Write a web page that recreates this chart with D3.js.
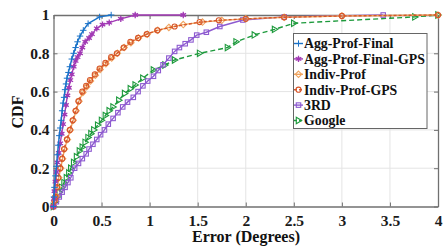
<!DOCTYPE html>
<html><head><meta charset="utf-8">
<script src="https://cdn.jsdelivr.net/npm/d3@7"></script>
<style>html,body{margin:0;padding:0;background:#fff;}svg{display:block;}</style>
</head><body>
<svg id="c" width="443" height="247"></svg>
<script>
const xTicks = [0, 0.5, 1, 1.5, 2, 2.5, 3, 3.5, 4];
const xTickLabels = ["0", "0.5", "1", "1.5", "2", "2.5", "3", "3.5", "4"];
const yTicks = [0, 0.2, 0.4, 0.6, 0.8, 1];
const yTickLabels = ["0", "0.2", "0.4", "0.6", "0.8", "1"];
const seriesNames = ["Agg-Prof-Final", "Agg-Prof-Final-GPS", "Indiv-Prof", "Indiv-Prof-GPS", "3RD", "Google"];

const aggProfFinalX = [0,0.005,0.01,0.02,0.03,0.04,0.05,0.06,0.07,0.08,0.09,0.1,0.11,0.12,0.13,0.14,0.155,0.17,0.19,0.21,0.23,0.25,0.276,0.31,0.36,0.48,0.6];
const aggProfFinalY = [0,0.05,0.1,0.16,0.21,0.27,0.32,0.37,0.41,0.45,0.5,0.54,0.57,0.61,0.64,0.67,0.7,0.73,0.77,0.8,0.83,0.86,0.89,0.92,0.955,0.99,1.0];

const aggGpsX = [0,0.005,0.01,0.02,0.03,0.04,0.055,0.07,0.085,0.1,0.115,0.13,0.145,0.16,0.175,0.19,0.21,0.23,0.25,0.276,0.3,0.33,0.37,0.4,0.45,0.51,0.58,0.7,0.85,1.35];
const aggGpsY = [0,0.04,0.08,0.13,0.18,0.23,0.28,0.33,0.38,0.43,0.48,0.53,0.58,0.62,0.66,0.69,0.73,0.76,0.78,0.8,0.83,0.86,0.88,0.9,0.93,0.95,0.96,0.98,1.0,1.0];

const indivX = [0,0.012,0.025,0.04,0.055,0.075,0.095,0.115,0.145,0.175,0.205,0.235,0.265,0.305,0.345,0.385,0.435,0.485,0.545,0.605,0.665,0.735,0.805,0.885,0.975,1.085,1.2,1.35,1.55,1.75,2.0,2.4,3.0,4.0];
const indivY = [0,0.03,0.055,0.1,0.15,0.2,0.25,0.3,0.35,0.4,0.45,0.5,0.55,0.595,0.625,0.655,0.685,0.715,0.745,0.775,0.8,0.83,0.855,0.88,0.9,0.92,0.935,0.95,0.963,0.972,0.98,0.988,0.995,1.0];

const indivGpsX = [0,0.01,0.02,0.035,0.05,0.07,0.09,0.11,0.14,0.17,0.2,0.23,0.26,0.3,0.34,0.38,0.43,0.48,0.54,0.6,0.66,0.73,0.8,0.88,0.97,1.08,1.26,1.52,1.72,2.0,2.4,3.0,4.0];
const indivGpsY = [0,0.03,0.05,0.1,0.15,0.2,0.25,0.3,0.35,0.4,0.45,0.5,0.55,0.6,0.63,0.66,0.69,0.72,0.75,0.78,0.8,0.83,0.86,0.88,0.9,0.92,0.94,0.963,0.972,0.98,0.988,0.995,1.0];

const rdX = [0,0.03,0.06,0.09,0.12,0.15,0.18,0.22,0.26,0.3,0.34,0.37,0.41,0.45,0.49,0.53,0.57,0.62,0.67,0.72,0.77,0.83,0.88,0.93,0.98,1.04,1.09,1.14,1.2,1.26,1.31,1.37,1.43,1.49,1.59,1.73,1.97,2.4,3.43];
const rdY = [0,0.025,0.05,0.075,0.1,0.125,0.15,0.2,0.225,0.25,0.275,0.3,0.325,0.35,0.375,0.4,0.43,0.46,0.49,0.52,0.545,0.57,0.6,0.63,0.655,0.68,0.71,0.74,0.775,0.81,0.83,0.85,0.87,0.895,0.91,0.94,0.974,0.99,1.0];

const googleX = [0,0.02,0.04,0.06,0.085,0.11,0.135,0.16,0.18,0.21,0.24,0.27,0.3,0.33,0.36,0.39,0.42,0.46,0.5,0.54,0.58,0.62,0.68,0.74,0.8,0.85,0.93,1.04,1.16,1.26,1.52,1.81,1.9,2.09,2.3,2.5,3.76,4.0];
const googleY = [0,0.025,0.05,0.075,0.1,0.125,0.15,0.175,0.2,0.23,0.26,0.29,0.31,0.335,0.36,0.38,0.4,0.425,0.45,0.475,0.5,0.52,0.555,0.59,0.615,0.635,0.67,0.713,0.739,0.765,0.8,0.83,0.86,0.896,0.925,0.957,0.99,1.0];

const colors = ["#1a72c8", "#a23ab5", "#f0a45e", "#d6562a", "#8d5ad0", "#1d9a3c"];
const markers = ["plus", "asterisk", "diamond", "circle", "square", "triangle"];
const dashes = [null, null, null, "3,2", null, "5,3"];

const allX = [aggProfFinalX, aggGpsX, indivX, indivGpsX, rdX, googleX];
const allY = [aggProfFinalY, aggGpsY, indivY, indivGpsY, rdY, googleY];

const x = d3.scaleLinear().domain([0, 4]).range([53.5, 438]);
const y = d3.scaleLinear().domain([0, 1]).range([206.5, 15]);

const svg = d3.select("#c");
const font = "'Liberation Serif', 'Times New Roman', serif";

// grid
svg.append("g").selectAll("line").data(xTicks.slice(1, -1)).join("line")
  .attr("x1", d => x(d)).attr("x2", d => x(d)).attr("y1", y(0)).attr("y2", y(1))
  .attr("stroke", "#e4e4e4").attr("stroke-width", 1);
svg.append("g").selectAll("line").data(yTicks.slice(1, -1)).join("line")
  .attr("y1", d => y(d)).attr("y2", d => y(d)).attr("x1", x(0)).attr("x2", x(4))
  .attr("stroke", "#e4e4e4").attr("stroke-width", 1);

// axes
const xAxis = d3.axisBottom(x).tickValues(xTicks).tickFormat((d, i) => xTickLabels[i]).tickSizeInner(-4).tickSizeOuter(0).tickPadding(8);
const yAxis = d3.axisLeft(y).tickValues(yTicks).tickFormat((d, i) => yTickLabels[i]).tickSizeInner(-4).tickSizeOuter(0).tickPadding(4);
const gx = svg.append("g").attr("transform", `translate(0,${y(0)})`).call(xAxis);
const gy = svg.append("g").attr("transform", `translate(${x(0)},0)`).call(yAxis);
const gx2 = svg.append("g").attr("transform", `translate(0,${y(1)})`).call(d3.axisTop(x).tickValues(xTicks).tickFormat("").tickSizeInner(-4).tickSizeOuter(0));
const gy2 = svg.append("g").attr("transform", `translate(${x(4)},0)`).call(d3.axisRight(y).tickValues(yTicks).tickFormat("").tickSizeInner(-4).tickSizeOuter(0));
[gx, gy, gx2, gy2].forEach(g => {
  g.select(".domain").attr("stroke", "#707070").attr("stroke-width", 1.3);
  g.selectAll(".tick line").attr("stroke", "#707070");
  g.selectAll("text").attr("font-family", font).attr("font-weight", "bold").attr("font-size", 15.5).attr("fill", "#1a1a1a");
});

function drawMarker(g, type, cx, cy, color, s) {
  if (type === "plus") {
    g.append("path").attr("d", `M${cx-s},${cy}H${cx+s}M${cx},${cy-s}V${cy+s}`).attr("stroke", color).attr("stroke-width", 1).attr("fill", "none");
  } else if (type === "asterisk") {
    const a = s * 0.87, b = s * 0.5;
    g.append("path").attr("d", `M${cx},${cy-s}V${cy+s}M${cx-a},${cy-b}L${cx+a},${cy+b}M${cx-a},${cy+b}L${cx+a},${cy-b}`).attr("stroke", color).attr("stroke-width", 1.3).attr("fill", "none");
    g.append("circle").attr("cx", cx).attr("cy", cy).attr("r", s * 0.55).attr("fill", color);
  } else if (type === "diamond") {
    g.append("path").attr("d", `M${cx},${cy-s}L${cx+s},${cy}L${cx},${cy+s}L${cx-s},${cy}Z`).attr("stroke", color).attr("stroke-width", 1.1).attr("fill", "none");
  } else if (type === "circle") {
    g.append("circle").attr("cx", cx).attr("cy", cy).attr("r", s * 0.8).attr("stroke", color).attr("stroke-width", 1.1).attr("fill", "none");
  } else if (type === "square") {
    const r = s * 0.7;
    g.append("rect").attr("x", cx - r).attr("y", cy - r).attr("width", 2 * r).attr("height", 2 * r).attr("stroke", color).attr("stroke-width", 1.1).attr("fill", "none");
  } else if (type === "triangle") {
    g.append("path").attr("d", `M${cx-s*0.7},${cy-s}L${cx+s},${cy}L${cx-s*0.7},${cy+s}Z`).attr("stroke", color).attr("stroke-width", 1.1).attr("fill", "none");
  }
}

const line = d3.line().x(d => x(d[0])).y(d => y(d[1]));
const order = [5, 4, 2, 3, 1, 0];
order.forEach(i => {
  const pts = allX[i].map((v, k) => [v, allY[i][k]]);
  const g = svg.append("g");
  g.append("path").datum(pts).attr("d", line).attr("fill", "none").attr("stroke", colors[i])
    .attr("stroke-width", 1.4).attr("stroke-dasharray", dashes[i]);
  pts.forEach(p => drawMarker(g, markers[i], x(p[0]), y(p[1]), colors[i], 3.2));
});

// legend
const lg = svg.append("g");
lg.append("rect").attr("x", 293.5).attr("y", 33.5).attr("width", 133.5).attr("height", 95)
  .attr("fill", "#fff").attr("stroke", "#666").attr("stroke-width", 1);
seriesNames.forEach((n, i) => {
  const cy = 43.5 + i * 15.4;
  lg.append("line").attr("x1", 294).attr("x2", 303).attr("y1", cy).attr("y2", cy)
    .attr("stroke", colors[i]).attr("stroke-width", 1.4).attr("stroke-dasharray", dashes[i] ? "3,2" : null);
  drawMarker(lg, markers[i], 298.5, cy, colors[i], 3.2);
  lg.append("text").attr("x", 304).attr("y", cy + 4.8).text(n)
    .attr("font-family", font).attr("font-weight", "bold").attr("font-size", 13.8).attr("fill", "#111");
});

// axis titles
svg.append("text").attr("x", 246).attr("y", 242).attr("text-anchor", "middle").text("Error (Degrees)")
  .attr("font-family", font).attr("font-weight", "bold").attr("font-size", 16).attr("fill", "#111");
svg.append("text").attr("transform", "translate(23,112) rotate(-90)").attr("text-anchor", "middle").text("CDF")
  .attr("font-family", font).attr("font-weight", "bold").attr("font-size", 16).attr("fill", "#111");
</script>
</body></html>
